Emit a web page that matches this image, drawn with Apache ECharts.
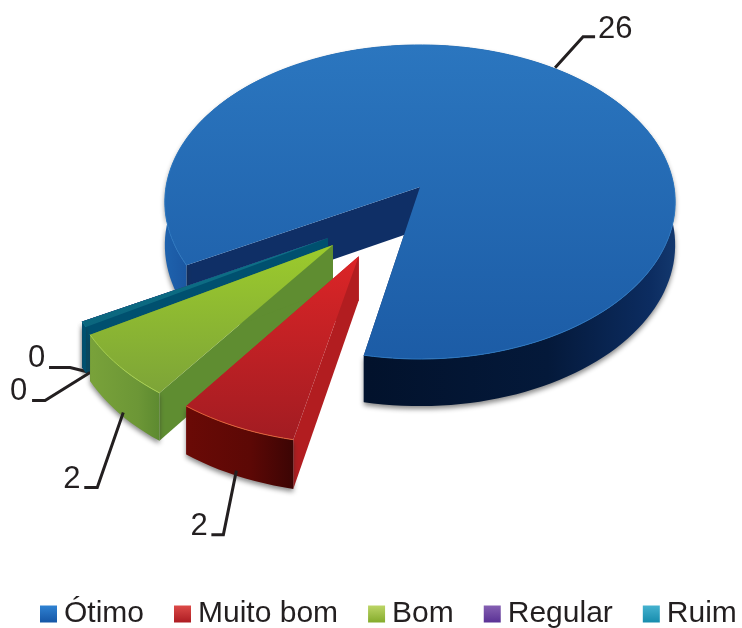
<!DOCTYPE html>
<html>
<head>
<meta charset="utf-8">
<style>
  html, body { margin: 0; padding: 0; background: #fff; }
  #chart { width: 742px; height: 628px; }
</style>
<script src="https://cdn.jsdelivr.net/npm/echarts@6/dist/echarts.min.js"></script>
</head>
<body>
<div id="chart"></div>
<script>
var categories = ['Ótimo', 'Muito bom', 'Bom', 'Regular', 'Ruim'];
var values = [26, 2, 2, 0, 0];

// look of each slice, same order as categories
var explodeDir = [0, 208.5, 222.6, 227.8, 227.8];
var explodeDist = [0, 0.485, 0.489, 0.474, 0.474];
var sliceZ = [1, 5, 4, 2, 3];
var topColors = [['#2b76bf', '#1c5ca6'], ['#dc2527', '#a21c22'], ['#9ccb2c', '#7da438'], ['#7a4ea8', '#5b3396'], ['#0e7289', '#0b667e']];
var wallColors = ['#0f2f66', '#b21d20', '#5f8d31', '#4b2a80', '#00506f'];
var edgeColors = ['#2b76bf', '#e0633a', '#a8d050', '#7a4ea8', '#0e7289'];
var legendColors = [['#2f82d2', '#1556a6'], ['#dc4a48', '#ad1c22'], ['#bcd566', '#84ab2c'], ['#8560b2', '#5a3295'], ['#45b2cf', '#178cad']];
var rimStops = [
  [[0, '#1e62ad'], [0.05, '#1a55a0'], [0.07, '#0a2a5a'], [0.4, '#02122c'], [0.75, '#04193a'], [0.95, '#0c2c60'], [1, '#13386e']],
  [[0, '#6a0a06'], [0.6, '#5c0805'], [1, '#3c0504']],
  [[0, '#79a23a'], [0.7, '#6c9636'], [1, '#5d8a30']],
  [[0, '#4b2a80'], [1, '#4b2a80']],
  [[0, '#00506f'], [1, '#00506f']]
];
// leader line: bend and end relative to rim anchor, then text position
var leaderAnchorShift = [[-5, -3], [0, -5], [4, -1], [6, 2], [6, 2]];
var leaderBend = [[28, -31], [-13, 64], [-26, 75], [-20, -5], [-45, 28]];
var leaderEnd = [[40, -31], [-25, 64], [-39, 75], [-41, -5], [-58, 28]];
var labelOffset = [[43, -38], [-46, 56], [-60, 67], [-62, -14], [-80, 19]];

// projection of the pie plane
var cx = 420, cy = 187, radiusX = 254, radiusY = 155.6, persp = 0.0955, depth = 42.6;
var startAngle = 241.3, zeroSweep = 2;

function project(u, v, h) {
  var w = 1 - persp * v;
  return [cx + radiusX * u / w, cy + radiusY * v / w + h / w];
}

// start and sweep of each slice, zero slices get a thin sliver
function sliceAngles() {
  var total = values.reduce(function (a, b) { return a + b; }, 0);
  var unit = (360 - zeroSweep) / total;
  var angles = [];
  var cur = startAngle;
  values.forEach(function (val) {
    if (val > 0) {
      angles.push([cur, val * unit]);
      cur += val * unit;
    } else {
      angles.push([cur, zeroSweep]);
    }
  });
  return angles;
}
var angles = sliceAngles();

function rad(a) { return a * Math.PI / 180; }

function sliceRender(idx) {
  return function (params, api) {
    var start = angles[idx][0], sweep = angles[idx][1];
    var ou = Math.sin(rad(explodeDir[idx])) * explodeDist[idx];
    var ov = -Math.cos(rad(explodeDir[idx])) * explodeDist[idx];
    var arcPt = function (a, h) {
      return project(ou + Math.sin(rad(a)), ov - Math.cos(rad(a)), h);
    };
    var steps = Math.max(2, Math.ceil(sweep / 2));
    var topArc = [], lowArc = [];
    for (var i = 0; i <= steps; i++) {
      var a = start + sweep * i / steps;
      topArc.push(arcPt(a, 0));
      lowArc.push(arcPt(a, depth));
    }
    var apexTop = project(ou, ov, 0), apexLow = project(ou, ov, depth);
    var wallFill = wallColors[idx];
    var children = [
      { type: 'polygon', shape: { points: [apexTop, topArc[0], lowArc[0], apexLow] }, style: { fill: wallFill } },
      { type: 'polygon', shape: { points: [apexTop, topArc[steps], lowArc[steps], apexLow] }, style: { fill: wallFill } },
      {
        type: 'polygon',
        shape: { points: topArc.concat(lowArc.slice().reverse()) },
        style: {
          fill: new echarts.graphic.LinearGradient(0, 0, 1, 0, rimStops[idx].map(function (s) {
            return { offset: s[0], color: s[1] };
          })),
          shadowColor: 'rgba(40,40,40,0.55)',
          shadowBlur: 5,
          shadowOffsetY: 3
        }
      },
      {
        type: 'polygon',
        shape: { points: [apexTop].concat(topArc) },
        style: {
          fill: new echarts.graphic.LinearGradient(0, 0, 0, 1, [
            { offset: 0, color: topColors[idx][0] },
            { offset: 1, color: topColors[idx][1] }
          ])
        }
      },
      { type: 'polyline', shape: { points: topArc }, style: { fill: null, stroke: edgeColors[idx], lineWidth: 1 } }
    ];

    // leader line and value label
    var mid = start + sweep / 2;
    var isBack = idx === 0;
    var anchor = arcPt(mid, isBack ? 0 : depth);
    anchor = [anchor[0] + leaderAnchorShift[idx][0], anchor[1] + leaderAnchorShift[idx][1]];
    children.push({
      type: 'polyline',
      shape: {
        points: [
          anchor,
          [anchor[0] + leaderBend[idx][0], anchor[1] + leaderBend[idx][1]],
          [anchor[0] + leaderEnd[idx][0], anchor[1] + leaderEnd[idx][1]]
        ]
      },
      style: { fill: null, stroke: '#231f20', lineWidth: 3 }
    });
    children.push({
      type: 'text',
      style: {
        text: String(api.value(0)),
        x: anchor[0] + labelOffset[idx][0],
        y: anchor[1] + labelOffset[idx][1],
        font: '31px "Liberation Sans"',
        fill: '#231f20',
        textAlign: 'left',
        textVerticalAlign: 'middle'
      }
    });
    return { type: 'group', children: children };
  };
}

var chart = echarts.init(document.getElementById('chart'));
var option = {
  animation: false,
  backgroundColor: '#fff',
  legend: {
    left: 40,
    top: 599,
    width: 702,
    padding: 0,
    itemWidth: 17,
    itemHeight: 17,
    itemGap: 30,
    selectedMode: false,
    textStyle: { fontFamily: 'Liberation Sans', fontSize: 30, color: '#231f20', padding: [0, 0, 0, 2] },
    data: categories.map(function (name, i) {
      return {
        name: name,
        icon: 'rect',
        itemStyle: {
          color: new echarts.graphic.LinearGradient(0, 0, 0, 1, [
            { offset: 0, color: legendColors[i][0] },
            { offset: 1, color: legendColors[i][1] }
          ])
        }
      };
    })
  },
  series: categories.map(function (name, i) {
    return {
      name: name,
      type: 'custom',
      coordinateSystem: 'none',
      silent: true,
      z: sliceZ[i],
      itemStyle: { color: legendColors[i][1] },
      renderItem: sliceRender(i),
      data: [[values[i]]]
    };
  })
};
chart.setOption(option);
</script>
</body>
</html>
